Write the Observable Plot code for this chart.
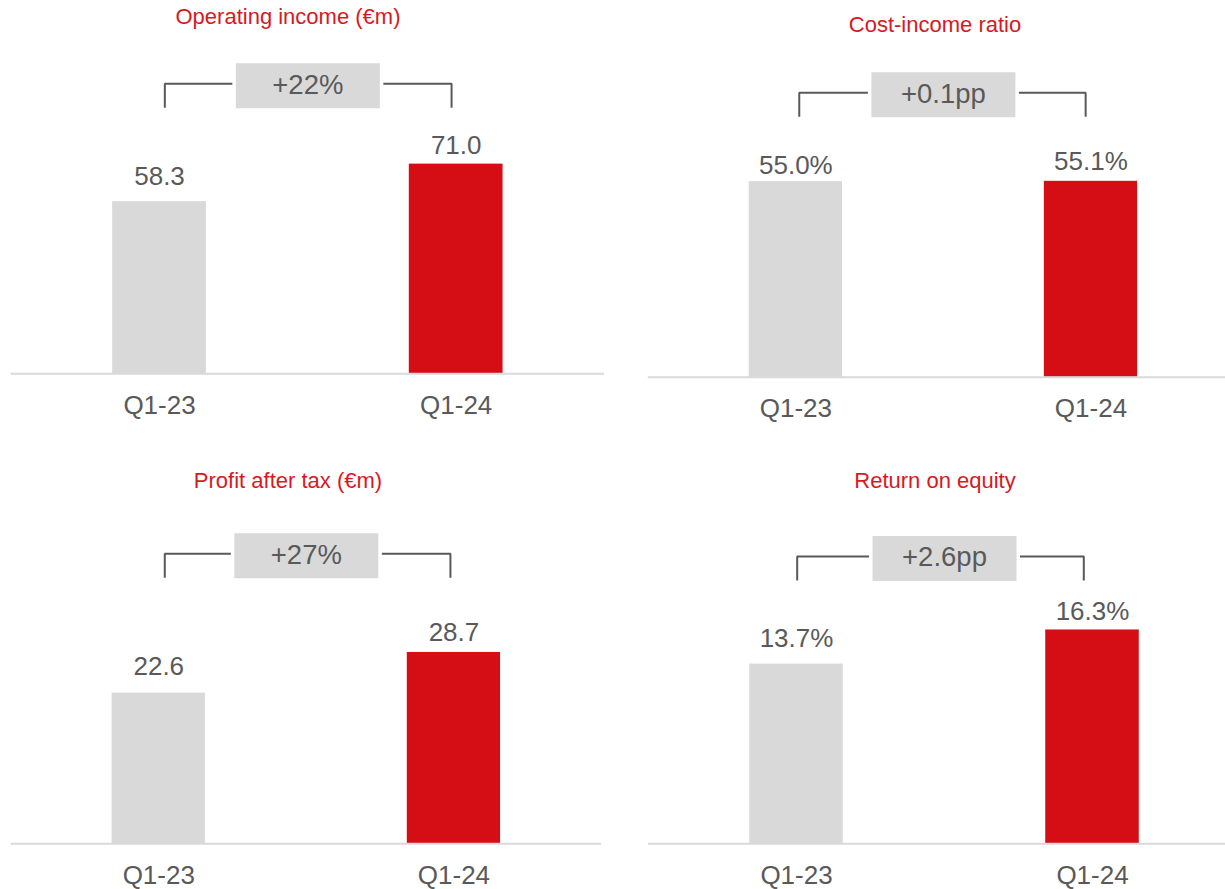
<!DOCTYPE html>
<html><head><meta charset="utf-8">
<script src="https://cdn.jsdelivr.net/npm/d3@7"></script>
<script src="https://cdn.jsdelivr.net/npm/@observablehq/plot@0.6"></script>
<style>
html,body{margin:0;padding:0;background:#fff;width:1225px;height:889px;overflow:hidden;}
body{position:relative;font-family:"Liberation Sans",Arial,sans-serif;}
.panel{position:absolute;}
.title{position:absolute;width:400px;text-align:center;font-size:22px;line-height:22px;color:#d7191f;white-space:nowrap;}
</style></head><body>
<script>
// ---- data ----
const categories = ["Q1-23", "Q1-24"];
const titles = ["Operating income (€m)", "Cost-income ratio", "Profit after tax (€m)", "Return on equity"];
const operatingIncome = [58.3, 71.0];
const costIncomeRatio = [55.0, 55.1];
const profitAfterTax = [22.6, 28.7];
const returnOnEquity = [13.7, 16.3];
const changeLabels = ["+22%", "+0.1pp", "+27%", "+2.6pp"];

// ---- styles ----
const GREY = "#d9d9d9", RED = "#d40e14", TEXT = "#595959";
const barColors = [GREY, RED];
const HW = 0.158;           // half bar width (x units)
const num = v => v.toFixed(1);
const pct = v => v.toFixed(1) + "%";

const panels = [
  {title: titles[0], values: operatingIncome, fmt: num, change: changeLabels[0],
   left: 0, top: 0, width: 612, height: 444, mL: 10.7, mR: 8, base: 373.3, bracket: 83.3, yRef: 98.2,
   gaps: [17, 10], inset: [5.3, 4.6], titleX: 288, titleBase: 25},
  {title: titles[1], values: costIncomeRatio, fmt: pct, change: changeLabels[1],
   left: 612, top: 0, width: 626, height: 444, mL: 35.8, mR: 0, base: 376.7, bracket: 92.3, yRef: 80.0,
   gaps: [8, 11], inset: [3.4, 5.3], titleX: 935, titleBase: 33},
  {title: titles[2], values: profitAfterTax, fmt: num, change: changeLabels[2],
   left: 0, top: 444, width: 612, height: 445, mL: 10.7, mR: 11, base: 399.3, bracket: 109.3, yRef: 43.5,
   gaps: [18, 11.5], inset: [6, 3.5], titleX: 288, titleBase: 489},
  {title: titles[3], values: returnOnEquity, fmt: pct, change: changeLabels[3],
   left: 612, top: 444, width: 628, height: 445, mL: 36, mR: 0, base: 399.3, bracket: 112, yRef: 21.9,
   gaps: [17, 10], inset: [0.7, 8.7], titleX: 935, titleBase: 489}
];

const boxSymbol = (w, h) => ({draw(ctx) { ctx.rect(-w / 2, -h / 2, w, h); }});

for (const p of panels) {
  const k = (p.base - p.bracket) / p.yRef;
  const tick = 24 / k;
  const step = (p.width - p.mL - p.mR) / 2;
  const IL = p.inset[0] / step, IR = p.inset[1] / step;
  const rows = categories.map((c, i) => ({i, c, v: p.values[i], label: p.fmt(p.values[i])}));
  const bracketPts = [
    {x: 0 + IL, y: p.yRef - tick}, {x: 0 + IL, y: p.yRef},
    {x: 1 - IR, y: p.yRef}, {x: 1 - IR, y: p.yRef - tick}
  ];
  const mid = [{x: 0.5, y: p.yRef, t: p.change}];

  const chart = Plot.plot({
    width: p.width, height: p.height,
    marginLeft: p.mL, marginRight: p.mR, marginTop: 0, marginBottom: 0,
    x: {type: "linear", domain: [-0.5, 1.5], axis: null},
    y: {type: "linear", domain: [0, p.yRef], range: [p.base, p.bracket], axis: null},
    color: {type: "identity"},
    style: {fontFamily: "Liberation Sans, Arial, sans-serif", background: "transparent", overflow: "visible", maxWidth: "none"},
    marks: [
      Plot.rect(rows, {x1: d => d.i - HW, x2: d => d.i + HW, y1: d => 0, y2: "v", fill: d => barColors[d.i]}),
      Plot.ruleY([0], {stroke: GREY, strokeWidth: 2}),
      Plot.line(bracketPts, {x: "x", y: "y", stroke: TEXT, strokeWidth: 2, strokeLinejoin: "miter", strokeLinecap: "butt"}),
      Plot.dot(mid, {x: "x", y: "y", symbol: boxSymbol(151, 51), fill: "white", dy: 2}),
      Plot.dot(mid, {x: "x", y: "y", symbol: boxSymbol(144, 45), fill: GREY, dy: 2}),
      Plot.text(mid, {x: "x", y: "y", text: "t", fontSize: 27.5, fill: TEXT, dy: 1}),
      ...[0, 1].map(j => Plot.text(rows, {filter: d => d.i === j, x: "i", y: "v", text: "label",
        lineAnchor: "bottom", dy: -p.gaps[j], fontSize: 26, fill: TEXT})),
      Plot.text(rows, {x: "i", y: d => 0, text: "c", lineAnchor: "bottom", dy: 40, fontSize: 26, fill: TEXT})
    ]
  });
  const div = document.createElement("div");
  div.className = "panel";
  div.style.left = p.left + "px";
  div.style.top = p.top + "px";
  div.style.width = p.width + "px";
  div.style.height = p.height + "px";
  div.appendChild(chart);
  document.body.appendChild(div);

  const t = document.createElement("div");
  t.className = "title";
  t.textContent = p.title;
  t.style.left = (p.titleX - 200) + "px";
  t.style.top = (p.titleBase - 18.6) + "px";
  document.body.appendChild(t);
}
</script>
</body></html>
